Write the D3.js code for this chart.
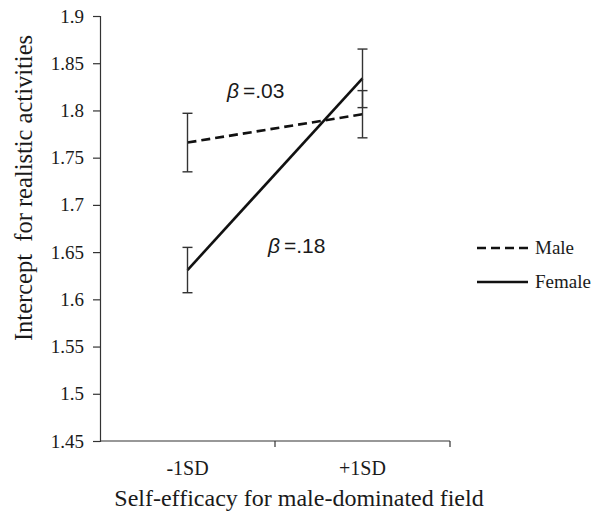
<!DOCTYPE html>
<html>
<head>
<meta charset="utf-8">
<script src="https://cdn.jsdelivr.net/npm/d3@7"></script>
<style>
  body { margin: 0; background: #fff; }
  text { fill: #1a1a1a; }
</style>
</head>
<body>
<svg id="chart" width="597" height="514"></svg>
<script>
// data
var levels = ["-1SD", "+1SD"]
var maleMeans = [1.766, 1.796]
var maleErr = [0.031, 0.025]
var femaleMeans = [1.631, 1.834]
var femaleErr = [0.024, 0.031]
var yTicks = [1.45, 1.5, 1.55, 1.6, 1.65, 1.7, 1.75, 1.8, 1.85, 1.9]
var betaLabels = [".03", ".18"]

var svg = d3.select("#chart")
var serif = "'Liberation Serif', 'Times New Roman', serif"

var x = d3.scaleBand().domain(levels).range([100, 450])
var y = d3.scaleLinear().domain([1.45, 1.9]).range([441, 16])

// y axis
var yAxis = d3.axisLeft(y).tickValues(yTicks).tickSize(7).tickPadding(9)
  .tickFormat(function(d) { return String(+d.toFixed(2)) })
var gy = svg.append("g").attr("transform", "translate(100,0)").call(yAxis)
gy.attr("font-family", serif).attr("font-size", 19)
gy.select(".domain").attr("stroke", "#333").attr("stroke-width", 1.2)
gy.selectAll(".tick line").attr("stroke", "#333").attr("stroke-width", 1.2)
gy.selectAll("text").style("font-family", serif).style("font-size", "19px").attr("fill", "#1a1a1a")

// x axis, ticks sit on the band edges
var gx = svg.append("g").attr("transform", "translate(0,441)")
gx.append("line").attr("x1", 100).attr("x2", 450).attr("stroke", "#333").attr("stroke-width", 1.2)
gx.selectAll(".edge").data(levels).enter().append("line")
  .attr("x1", function(d) { return x(d) + x.bandwidth() })
  .attr("x2", function(d) { return x(d) + x.bandwidth() })
  .attr("y1", 0).attr("y2", 6).attr("stroke", "#333").attr("stroke-width", 1.2)
gx.selectAll(".lab").data(levels).enter().append("text")
  .attr("x", function(d) { return x(d) + x.bandwidth() / 2 })
  .attr("y", 34).attr("text-anchor", "middle")
  .style("font-family", serif).style("font-size", "20px")
  .text(function(d) { return d })

// axis titles
svg.append("text").attr("x", 299).attr("y", 506).attr("text-anchor", "middle")
  .style("font-family", serif).style("font-size", "24px")
  .text("Self-efficacy for male-dominated field")
svg.append("text").attr("transform", "translate(32,188) rotate(-90)")
  .attr("text-anchor", "middle").style("font-family", serif).style("font-size", "24.5px")
  .style("white-space", "pre")
  .text("Intercept  for realistic activities")

var cx = function(d, i) { return x(levels[i]) + x.bandwidth() / 2 }

function drawSeries(means, errs, dash) {
  var pts = means.map(function(m, i) { return [cx(m, i), y(m)] })
  svg.append("path").attr("d", d3.line()(pts)).attr("fill", "none")
    .attr("stroke", "#111").attr("stroke-width", 2.6)
    .attr("stroke-dasharray", dash)
  var g = svg.append("g").attr("stroke", "#333").attr("stroke-width", 1.4)
  means.forEach(function(m, i) {
    var px = cx(m, i)
    g.append("line").attr("x1", px).attr("x2", px).attr("y1", y(m - errs[i])).attr("y2", y(m + errs[i]))
    g.append("line").attr("x1", px - 5).attr("x2", px + 5).attr("y1", y(m - errs[i])).attr("y2", y(m - errs[i]))
    g.append("line").attr("x1", px - 5).attr("x2", px + 5).attr("y1", y(m + errs[i])).attr("y2", y(m + errs[i]))
  })
}
drawSeries(maleMeans, maleErr, "9,5")
drawSeries(femaleMeans, femaleErr, null)

// beta annotations
var betaPos = [[227, 98], [268, 253]]
betaLabels.forEach(function(b, i) {
  var t = svg.append("text").attr("x", betaPos[i][0]).attr("y", betaPos[i][1])
    .style("font-family", "'Liberation Sans', Arial, sans-serif").style("font-size", "21px")
    .attr("fill", "#2a2a2a")
  t.append("tspan").style("font-style", "italic").text("\u03b2")
  t.append("tspan").attr("dx", 4).text("=" + b)
})

// legend
var legend = [["Male", "9,5", 248], ["Female", null, 282]]
legend.forEach(function(l) {
  svg.append("line").attr("x1", 477).attr("x2", 528).attr("y1", l[2]).attr("y2", l[2])
    .attr("stroke", "#111").attr("stroke-width", 2.6).attr("stroke-dasharray", l[1])
  svg.append("text").attr("x", 535).attr("y", l[2] + 6)
    .style("font-family", serif).style("font-size", "19px").text(l[0])
})
</script>
</body>
</html>
